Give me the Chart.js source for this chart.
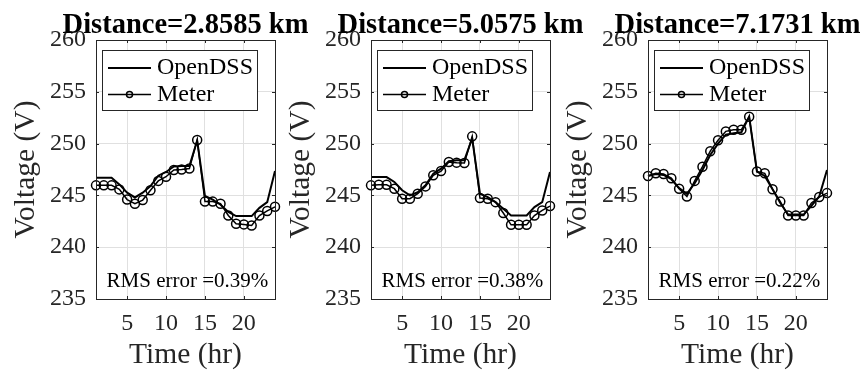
<!DOCTYPE html>
<html>
<head>
<meta charset="utf-8">
<script src="https://cdn.jsdelivr.net/npm/chart.js@4.4.1/dist/chart.umd.min.js"></script>
<style>
  html, body { margin: 0; padding: 0; background: #fff; overflow: hidden; width: 865px; height: 373px; }
  .cell { position: absolute; top: 0; }
</style>
</head>
<body>
<div class="cell" style="left:0px"><canvas id="c0" width="371" height="373"></canvas></div>
<div class="cell" style="left:275px"><canvas id="c1" width="371" height="373"></canvas></div>
<div class="cell" style="left:552px"><canvas id="c2" width="371" height="373"></canvas></div>
<script>
// ── Data ─────────────────────────────────────────────────────────────────────
const HOURS   = [1, 2, 3, 4, 5, 6, 7, 8, 9, 10, 11, 12, 13, 14, 15, 16, 17, 18, 19, 20, 21, 22, 23, 24];
const X_TICKS = [5, 10, 15, 20];
const Y_TICKS = [235, 240, 245, 250, 255, 260];

const TITLES   = ['Distance=2.8585 km', 'Distance=5.0575 km', 'Distance=7.1731 km'];
const RMS_TEXT = ['RMS error =0.39%', 'RMS error =0.38%', 'RMS error =0.22%'];

const OPENDSS_1 = [246.70, 246.70, 246.70, 246.06, 245.26, 244.80, 245.26, 245.90, 246.90, 247.26, 247.80, 247.84,
                   247.84, 250.30, 244.94, 244.60, 244.10, 243.40, 243.00, 243.00, 243.00, 243.80, 244.35, 247.35];
const METER_1   = [245.97, 245.97, 245.97, 245.58, 244.60, 244.20, 244.55, 245.50, 246.40, 246.80, 247.45, 247.50,
                   247.60, 250.35, 244.40, 244.40, 244.20, 243.06, 242.26, 242.20, 242.10, 243.06, 243.50, 243.90];

const OPENDSS_2 = [246.77, 246.77, 246.77, 246.30, 245.50, 245.00, 245.30, 245.97, 247.10, 247.58, 248.30, 248.40,
                   248.40, 250.50, 245.16, 244.84, 244.35, 243.70, 243.06, 243.06, 243.06, 243.87, 244.35, 247.26];
const METER_2   = [245.97, 246.03, 246.03, 245.65, 244.68, 244.68, 245.16, 245.87, 246.94, 247.35, 248.23, 248.16,
                   248.13, 250.70, 244.74, 244.68, 244.35, 243.30, 242.16, 242.16, 242.16, 243.06, 243.55, 243.97];

const OPENDSS_3 = [246.88, 247.07, 246.97, 246.56, 245.70, 245.16, 246.18, 247.45, 248.90, 250.00, 250.86, 251.00,
                   251.10, 252.60, 247.30, 246.88, 245.60, 244.27, 243.15, 243.15, 243.15, 244.00, 244.90, 247.45];
const METER_3   = [246.88, 247.13, 247.07, 246.66, 245.64, 244.90, 246.40, 247.77, 249.27, 250.32, 251.18, 251.34,
                   251.34, 252.60, 247.30, 247.13, 245.60, 244.40, 243.06, 243.06, 243.06, 244.27, 244.84, 245.22];

const PANELS = [
  { opendss: OPENDSS_1, meter: METER_1 },
  { opendss: OPENDSS_2, meter: METER_2 },
  { opendss: OPENDSS_3, meter: METER_3 },
];

// ── Styling ─────────────────────────────────────────────────────────────────
const FONT = "'Liberation Serif', 'Times New Roman', serif";
const AXIS_COLOR = '#262626';
const GRID_COLOR = '#e0e0e0';

Chart.defaults.font.family = FONT;

// bold title centred over the axes (the built-in one centres over the whole canvas)
const titlePlugin = {
  id: 'axTitle',
  afterDraw(chart, args, opts) {
    const { ctx, chartArea: a } = chart;
    ctx.save();
    ctx.fillStyle = '#000';
    ctx.font = `bold 28.5px ${FONT}`;
    ctx.textAlign = 'center';
    ctx.textBaseline = 'alphabetic';
    ctx.fillText(opts.text, (a.left + a.right) / 2, 33);
    ctx.restore();
  },
};

// axes box + inward tick marks (MATLAB look)
const framePlugin = {
  id: 'frame',
  afterDatasetsDraw(chart) {
    const { ctx, chartArea: a, scales: { x, y } } = chart;
    ctx.save();
    ctx.strokeStyle = AXIS_COLOR;
    ctx.lineWidth = 1;
    ctx.strokeRect(a.left + 0.5, a.top + 0.5, a.right - a.left, a.bottom - a.top);
    ctx.beginPath();
    X_TICKS.forEach(v => {
      const px = Math.round(x.getPixelForValue(v)) + 0.5;
      ctx.moveTo(px, a.bottom); ctx.lineTo(px, a.bottom - 3);
      ctx.moveTo(px, a.top);    ctx.lineTo(px, a.top + 3);
    });
    Y_TICKS.forEach(v => {
      const py = Math.round(y.getPixelForValue(v)) + 0.5;
      ctx.moveTo(a.left, py);  ctx.lineTo(a.left + 3, py);
      ctx.moveTo(a.right, py); ctx.lineTo(a.right - 3, py);
    });
    ctx.stroke();
    ctx.restore();
  },
};

// boxed legend in the top-left corner of the axes
const legendBox = {
  id: 'legendBox',
  afterDatasetsDraw(chart) {
    const { ctx, chartArea: a } = chart;
    const x0 = a.left + 6, y0 = a.top + 10, w = 155, h = 60;
    ctx.save();
    ctx.fillStyle = '#fff';
    ctx.fillRect(x0, y0, w, h);
    ctx.strokeStyle = AXIS_COLOR;
    ctx.lineWidth = 1;
    ctx.strokeRect(x0 + 0.5, y0 + 0.5, w, h);
    chart.data.datasets.forEach((ds, i) => {
      const yy = y0 + 18 + i * 26.5;
      ctx.strokeStyle = ds.borderColor;
      ctx.lineWidth = ds.borderWidth;
      ctx.beginPath(); ctx.moveTo(x0 + 6, yy); ctx.lineTo(x0 + 49, yy); ctx.stroke();
      if (ds.pointRadius > 0) {
        ctx.lineWidth = ds.pointBorderWidth;
        ctx.beginPath(); ctx.arc(x0 + 27.5, yy, 3, 0, Math.PI * 2); ctx.stroke();
      }
      ctx.fillStyle = '#000';
      ctx.font = `24px ${FONT}`;
      ctx.textBaseline = 'middle';
      ctx.textAlign = 'left';
      ctx.fillText(ds.label, x0 + 55, yy);
    });
    ctx.restore();
  },
};

// "RMS error" annotation, placed in data coordinates
const rmsPlugin = {
  id: 'rms',
  afterDatasetsDraw(chart, args, opts) {
    const { ctx, scales: { x, y } } = chart;
    ctx.save();
    ctx.fillStyle = '#000';
    ctx.font = `21px ${FONT}`;
    ctx.textAlign = 'center';
    ctx.textBaseline = 'alphabetic';
    ctx.fillText(opts.text, x.getPixelForValue(12.75), y.getPixelForValue(236.2));
    ctx.restore();
  },
};

function points(values) {
  return HOURS.map((h, i) => ({ x: h, y: values[i] }));
}

PANELS.forEach((p, i) => {
  new Chart(document.getElementById('c' + i), {
    type: 'line',
    data: {
      datasets: [
        { label: 'OpenDSS', data: points(p.opendss), borderColor: '#000', borderWidth: 2,
          pointRadius: 0, tension: 0, clip: false },
        { label: 'Meter', data: points(p.meter), borderColor: '#000', borderWidth: 1.5,
          pointRadius: 4.5, pointBorderWidth: 1.5, pointBorderColor: '#000',
          pointBackgroundColor: 'rgba(0,0,0,0)', tension: 0, clip: false },
      ],
    },
    options: {
      responsive: false,
      animation: false,
      layout: { padding: { left: 0, right: 96, top: 40, bottom: 0 } },
      plugins: {
        legend: { display: false },
        tooltip: { enabled: false },
        title: { display: false },
        axTitle: { text: TITLES[i] },
        rms: { text: RMS_TEXT[i] },
      },
      scales: {
        x: {
          type: 'linear', min: 1, max: 24,
          afterBuildTicks: s => { s.ticks = X_TICKS.map(v => ({ value: v })); },
          afterFit: s => { s.height = 74; },
          grid: { color: GRID_COLOR, drawTicks: false },
          border: { display: false },
          ticks: { padding: 10, color: AXIS_COLOR, font: { family: FONT, size: 24 }, maxRotation: 0 },
          title: { display: true, text: 'Time (hr)', color: AXIS_COLOR,
                   font: { family: FONT, size: 29.5 }, padding: { top: 0, bottom: 0 } },
        },
        y: {
          type: 'linear', min: 235, max: 260,
          afterBuildTicks: s => { s.ticks = Y_TICKS.map(v => ({ value: v })); },
          afterFit: s => { s.width = 96; },
          grid: { color: GRID_COLOR, drawTicks: false },
          border: { display: false },
          ticks: { padding: 10, color: AXIS_COLOR, font: { family: FONT, size: 24 } },
          title: { display: true, text: 'Voltage (V)', color: AXIS_COLOR,
                   font: { family: FONT, size: 29.5 }, padding: { top: 9, bottom: 0 } },
        },
      },
    },
    plugins: [titlePlugin, framePlugin, legendBox, rmsPlugin],
  });
});
</script>
</body>
</html>
